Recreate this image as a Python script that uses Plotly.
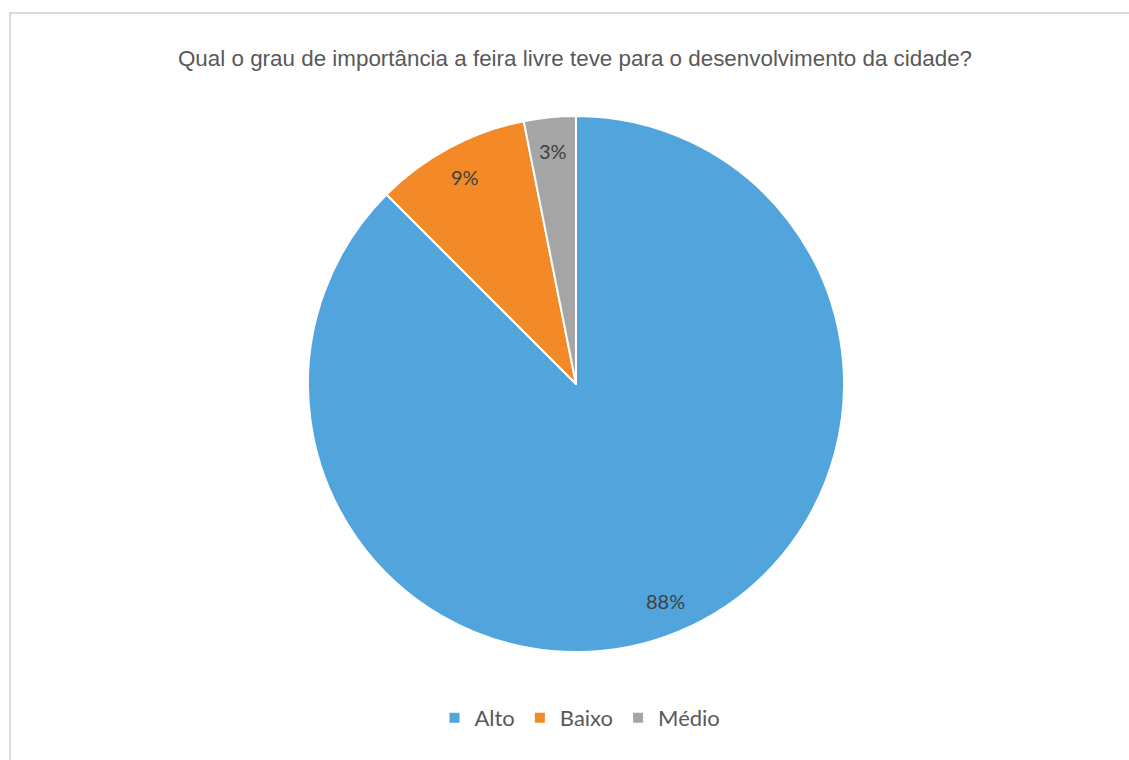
import math
import plotly.graph_objects as go

labels = ["Alto", "Baixo", "Médio"]
values = [28, 3, 1]
colors = ["#51a5dc", "#f38a27", "#a5a5a5"]
title_text = "Qual o grau de importância a feira livre teve para o desenvolvimento da cidade?"

W, H = 1129, 760
cx, cy, r = 576, 384, 268
label_r = 0.875  # fraction of radius where the data labels sit

dom_x = [(cx - r) / W, (cx + r) / W]
dom_y = [(H - cy - r) / H, (H - cy + r) / H]

fig = go.Figure(go.Pie(
    labels=labels,
    values=values,
    marker=dict(colors=colors, line=dict(color="white", width=2)),
    sort=False,
    direction="clockwise",
    rotation=0,
    textinfo="none",
    hoverinfo="label+percent",
    domain=dict(x=dom_x, y=dom_y),
))

# data labels placed like Excel's "best fit" (inside, near the rim)
total = sum(values)
annotations = []
cum = 0.0
for v in values:
    mid = (cum + v / 2) / total * 2 * math.pi
    cum += v
    px = cx + label_r * r * math.sin(mid)
    py = cy - label_r * r * math.cos(mid)
    annotations.append(dict(
        x=px / W, y=1 - py / H, xref="paper", yref="paper",
        text=f"{round(100 * v / total)}%", showarrow=False,
        xanchor="center", yanchor="middle",
        font=dict(family="Lato, Noto Sans, sans-serif", size=20, color="#404040"),
    ))

fig.update_layout(
    width=W, height=H,
    margin=dict(l=0, r=0, t=0, b=0),
    paper_bgcolor="white",
    title=dict(text=title_text, x=575 / W, xanchor="center", y=1 - 58 / H, yanchor="middle",
               font=dict(family="Liberation Sans, Arial, sans-serif", size=22.4, color="#595959")),
    showlegend=True,
    legend=dict(orientation="h", x=580 / W, xanchor="center", y=1 - 718 / H, yanchor="middle",
                font=dict(family="Lato, Noto Sans, sans-serif", size=22, color="#595959"),
                itemwidth=30, traceorder="normal"),
    annotations=annotations,
    shapes=[dict(type="rect", xref="paper", yref="paper", x0=10 / W, x1=1.05, y0=-0.05, y1=1 - 13 / H,
                 line=dict(color="#d9d9d9", width=2), fillcolor="rgba(0,0,0,0)", layer="below")],
)

fig.write_html("out.html")
